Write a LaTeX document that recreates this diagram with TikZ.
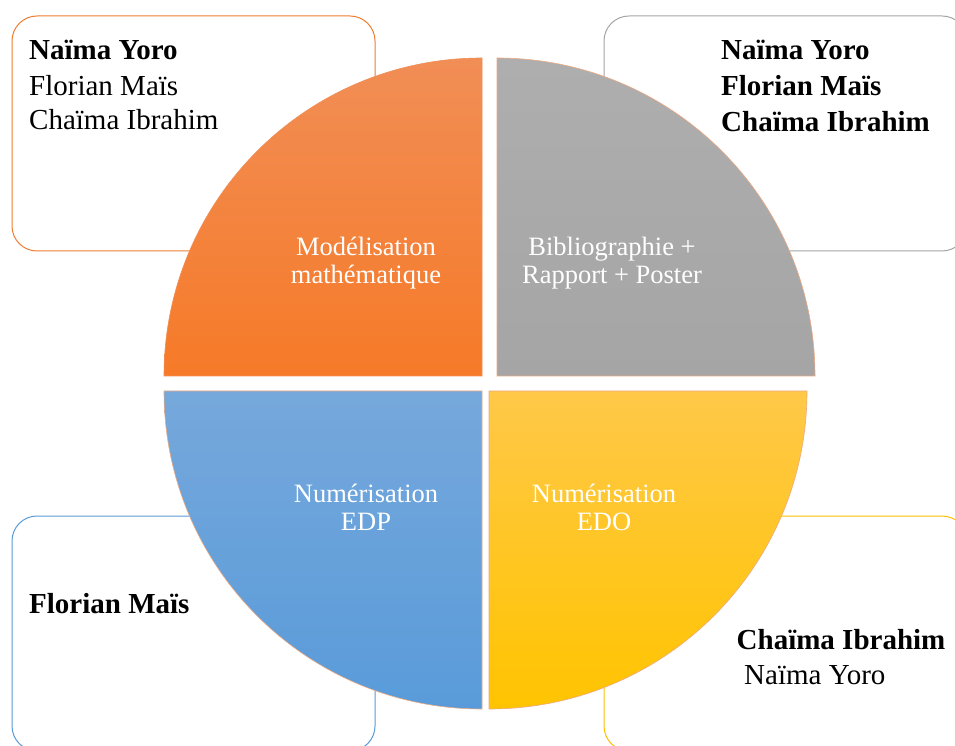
\documentclass[tikz,border=0pt]{standalone}
\usepackage{fontspec}
\setmainfont{Liberation Serif}
\definecolor{orTop}{RGB}{241,142,86}
\definecolor{orBot}{RGB}{246,122,40}
\definecolor{grTop}{RGB}{174,174,174}
\definecolor{grBot}{RGB}{165,165,165}
\definecolor{blTop}{RGB}{118,168,219}
\definecolor{blBot}{RGB}{89,155,218}
\definecolor{yeTop}{RGB}{255,200,72}
\definecolor{yeBot}{RGB}{255,196,0}
\definecolor{orLine}{RGB}{237,125,49}
\definecolor{grLine}{RGB}{165,165,165}
\definecolor{blLine}{RGB}{91,155,213}
\definecolor{yeLine}{RGB}{255,192,0}
\definecolor{peach}{RGB}{236,170,130}
\begin{document}
\begin{tikzpicture}[x=1pt,y=1pt,
  box/.style={draw, line width=1pt, fill=white, rounded corners=25pt,
    minimum width=363pt, minimum height=235pt, inner sep=0pt},
  who/.style={anchor=base west, inner sep=0pt, text=black,
    font=\fontsize{29}{35}\selectfont},
  whob/.style={anchor=base west, inner sep=0pt, text=black,
    font=\fontsize{29}{35}\selectfont\bfseries},
  lab/.style={anchor=base, inner sep=0pt, text=white,
    font=\fontsize{26.5}{29}\selectfont},
  quad/.style={draw=peach, line width=0.6pt}]
\useasboundingbox (0,0) rectangle (955,745);
\clip (0,0) rectangle (955,745);
\fill[white] (0,0) rectangle (955,745);

% boxes behind the quadrants
\node[box, draw=orLine] (b1) at (193.5,611.5) {};
\node[box, draw=grLine] (b2) at (785.5,611.5) {};
\node[box, draw=blLine] (b3) at (193.5,111.5) {};
\node[box, draw=yeLine] (b4) at (785.5,111.5) {};

% quadrants
\path[quad, draw=orTop, top color=orTop, bottom color=orBot]
  (482,369) -- (164,369) arc[start angle=180, end angle=90, radius=318pt] -- cycle;
\path[quad, top color=grTop, bottom color=grBot]
  (497,369) -- (497,687) arc[start angle=90, end angle=0, radius=318pt] -- cycle;
\path[quad, top color=blTop, bottom color=blBot]
  (482,354) -- (164,354) arc[start angle=180, end angle=270, radius=318pt] -- cycle;
\path[quad, top color=yeTop, bottom color=yeBot]
  (489,354) -- (807,354) arc[start angle=0, end angle=-90, radius=318pt] -- cycle;

% quadrant labels
\node[lab] (q1a) at (366,489) {Modélisation};
\node[lab] (q1b) at (366,461) {mathématique};
\node[lab] (q2a) at (612,489) {Bibliographie +};
\node[lab] (q2b) at (612,461) {Rapport + Poster};
\node[lab] (q3a) at (366,243) {Numérisation};
\node[lab] (q3b) at (366,215) {EDP};
\node[lab] (q4a) at (604,243) {Numérisation};
\node[lab] (q4b) at (604,215) {EDO};

% names
\node[whob] (t1a) at (29,685) {Naïma Yoro};
\node[who]  (t1b) at (29,649.5) {Florian Maïs};
\node[who]  (t1c) at (29,615) {Chaïma Ibrahim};

\node[whob] (t2a) at (721,685) {Naïma Yoro};
\node[whob] (t2b) at (721,649) {Florian Maïs};
\node[whob] (t2c) at (721,613.5) {Chaïma Ibrahim};

\node[whob] (t3a) at (29,132) {Florian Maïs};

\node[whob] (t4a) at (736.5,95.7) {Chaïma Ibrahim};
\node[who]  (t4b) at (744,60.7) {Naïma Yoro};
\end{tikzpicture}
\end{document}
